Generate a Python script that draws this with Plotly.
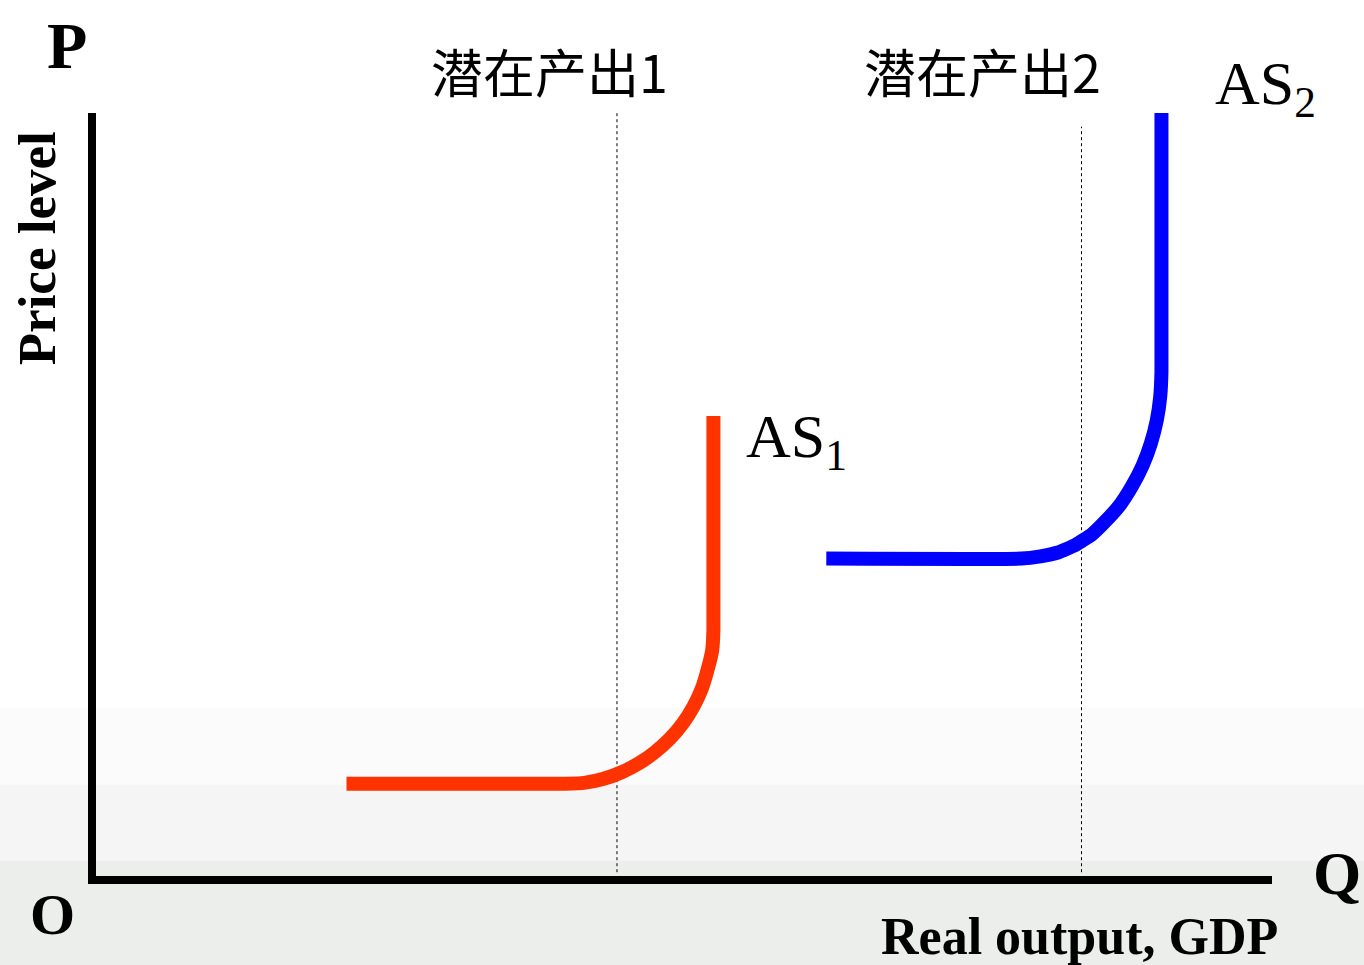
import plotly.graph_objects as go

# AS1 curve (Q, P)
as1_q = [21.3, 39.9, 41.5, 43.1, 44.7, 46.2, 47.5, 48.8, 49.9, 50.8, 51.5, 52.0, 52.4, 52.5, 52.5]
as1_p = [12.1, 12.1, 12.2, 12.7, 13.6, 14.8, 16.2, 18.0, 20.0, 22.2, 24.5, 27.0, 29.6, 32.2, 60.3]
# AS2 curve
as2_q = [62.1, 78.7, 80.3, 81.8, 83.3, 84.7, 85.9, 87.1, 88.1, 89.0, 89.7, 90.2, 90.5, 90.6, 90.6]
as2_p = [41.6, 41.6, 41.9, 42.4, 43.4, 44.8, 46.6, 48.7, 51.1, 53.8, 56.7, 59.7, 62.9, 66.1, 100.0]
# potential output levels (dotted verticals)
potential_q = [44.3, 83.8]
potential_top = [100.4, 98.2]
potential_labels = ["潜在产出1", "潜在产出2"]

fig = go.Figure()

for q, top in zip(potential_q, potential_top):
    fig.add_trace(go.Scatter(x=[q, q], y=[0.5, top], mode="lines", cliponaxis=False,
                             line=dict(color="black", width=1, dash="dot"),
                             hoverinfo="skip", showlegend=False))

fig.add_trace(go.Scatter(x=as1_q, y=as1_p, mode="lines", cliponaxis=False,
                         line=dict(color="#FF3300", width=14, shape="spline", smoothing=0.4),
                         showlegend=False))
fig.add_trace(go.Scatter(x=as2_q, y=as2_p, mode="lines", cliponaxis=False,
                         line=dict(color="#0000FF", width=14, shape="spline", smoothing=0.4),
                         showlegend=False))

serif = "Liberation Serif, Times New Roman, serif"
cjk = "Noto Sans CJK SC"


def pa(x, y, text, size, family=serif, angle=0):
    return dict(x=x, y=y, xref="paper", yref="paper", xanchor="center", yanchor="middle",
                text=text, textangle=angle, showarrow=False,
                font=dict(family=family, size=size, color="black"))


ann = [
    pa(-0.025, 1.089, "<b>P</b>", 66),
    pa(-0.050, 0.823, "<b>Price level</b>", 53, angle=-90),
    pa(-0.0374, -0.051, "<b>O</b>", 58),
    pa(1.0553, 0.004, "<b>Q</b>", 62),
    pa(0.8367, -0.079, "<b>Real output, GDP</b>", 52),
    pa(0.386, 1.0563, potential_labels[0], 52, family=cjk),
    pa(0.754, 1.0563, potential_labels[1], 52, family=cjk),
]
ann.append(dict(x=as2_q[-1], y=as2_p[-1], xref="x", yref="y", xanchor="left", yanchor="middle",
                xshift=52, yshift=26,
                text="AS<sub>2</sub>", showarrow=False, font=dict(family=serif, size=62, color="black")))
ann.append(dict(x=as1_q[-1], y=as1_p[-1], xref="x", yref="y", xanchor="left", yanchor="middle",
                xshift=31, yshift=-25,
                text="AS<sub>1</sub>", showarrow=False, font=dict(family=serif, size=62, color="black")))

# faint background wash near the bottom
shapes = []
for y0, op in [(0.22, 0.03), (0.12, 0.05), (0.02, 0.06)]:
    shapes.append(dict(type="rect", xref="paper", yref="paper", x0=-0.2, x1=1.2, y0=-0.2, y1=y0,
                       fillcolor=f"rgba(120,130,120,{op})", line=dict(width=0), layer="below"))

fig.update_layout(
    width=1364, height=965,
    margin=dict(l=96, r=92, t=113, b=89),
    paper_bgcolor="white", plot_bgcolor="rgba(0,0,0,0)",
    annotations=ann, shapes=shapes,
    xaxis=dict(range=[0, 100], showgrid=False, zeroline=False, showticklabels=False, ticks="",
               showline=True, linewidth=8, linecolor="black"),
    yaxis=dict(range=[0, 100], showgrid=False, zeroline=False, showticklabels=False, ticks="",
               showline=True, linewidth=8, linecolor="black"),
)

fig.write_html("out.html", config={"displayModeBar": False},
               post_script="document.body.style.margin='0';")
